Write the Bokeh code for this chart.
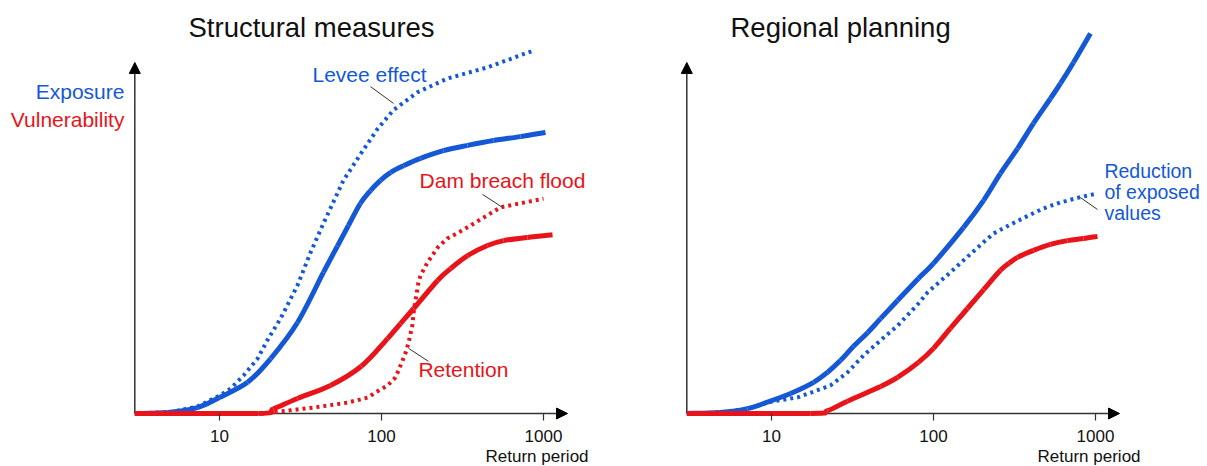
import math
from bokeh.plotting import figure
from bokeh.layouts import row
from bokeh.models import Range1d, FixedTicker, PrintfTickFormatter, Label, Arrow, NormalHead
from bokeh.embed import file_html
from bokeh.resources import INLINE

FONT = "Liberation Sans"
BLUE = "#1558d6"
RED = "#e8141a"
AXIS = "#333333"

# ---------------- data ----------------
tick_values = [10, 100, 1000]
tick_labels = ["10", "100", "1000"]

# Structural measures (left panel)
sm_exposure_x = [3, 4.8, 7.3, 10, 14.9, 20.7, 30.3, 43.8, 53.4, 62.5, 74, 85.5, 98.6, 114, 137, 174, 241, 340, 491, 721, 1028]
sm_exposure_y = [0, 0.3, 1.7, 4.6, 8.9, 15.7, 26, 40.3, 47.8, 53.7, 60, 63.7, 66.6, 68.9, 70.8, 72.9, 75.1, 76.6, 78, 79.1, 80.3]

sm_levee_x = [3, 5, 7.3, 10, 11.7, 14.1, 17.2, 20, 23.8, 30.3, 36.5, 43.2, 58.2, 74, 94.5, 118, 167, 255, 451, 843]
sm_levee_y = [0, 0.4, 2, 5.1, 7.1, 10.9, 15.7, 21.4, 27.1, 36.6, 46, 53.7, 66.6, 74, 81.3, 86.6, 91.8, 95.7, 98.9, 103.5]

sm_vuln_x = [3, 17.4, 21.5, 30.3, 48.4, 75, 109, 131, 158, 222, 267, 340, 451, 567, 796, 1137]
sm_vuln_y = [0, 0, 1.3, 4.3, 8, 13.5, 21.4, 25.7, 30, 38, 41.4, 45.1, 48, 49.4, 50.3, 51.1]

sm_dam_x = [3, 18.7, 26, 38, 61.7, 83, 89.4, 109, 122, 131, 141, 147, 155, 158, 169, 174, 192, 222, 255, 299, 354, 543, 1000]
sm_dam_y = [0, 0, 0.8, 1.7, 3.1, 4.6, 5.7, 8, 10.3, 13.7, 17.4, 20.3, 25.1, 28.9, 37.4, 39.4, 43.1, 47.4, 50, 51.7, 53.7, 58.9, 61.4]

# Regional planning (right panel)
rp_exposure_x = [3, 4.8, 7.1, 10, 13.1, 18.2, 22.2, 26.7, 32.1, 39.2, 47.1, 60, 80.7, 100, 153, 204, 259, 330, 414, 527, 608, 731, 931]
rp_exposure_y = [0, 0.3, 1.4, 3.7, 5.7, 8.9, 11.8, 15.2, 19.2, 23.1, 27.1, 32.3, 38.6, 42.9, 53.1, 60.9, 68.6, 75.7, 82.9, 90, 94.3, 100.3, 108.6]

rp_reduction_x = [3, 5, 7, 10, 14.5, 23.1, 29.4, 37, 47.1, 60, 80.7, 91.8, 127, 187, 234, 299, 380, 477, 608, 774, 1029]
rp_reduction_y = [0, 0.3, 1.3, 3.4, 4.6, 8, 11.7, 16.6, 20.9, 25.1, 31.4, 34.6, 40.3, 47.4, 51.4, 54, 56.4, 58.6, 60.3, 61.6, 62.9]

rp_vuln_x = [3, 17.4, 22.2, 29.4, 47.1, 60, 80.7, 100, 127, 162, 204, 259, 292, 330, 414, 527, 671, 843, 1029]
rp_vuln_y = [0, 0, 0.8, 3.5, 7.7, 10.3, 14.6, 18.6, 24.3, 30, 35.4, 40.9, 42.9, 44.6, 46.6, 48.3, 49.4, 50, 50.6]

# ---------------- layout ----------------
PX_DECADE = 162.0
PX_Y = 3.5
H = 466
AXIS_Y_PX = 413
AXIS_X0 = 3
X_ARROW = 10 ** (1 + 348 / PX_DECADE)
Y_ARROW = 100.3


def make_panel(width, x10_px):
    # frame spans the whole canvas; x10_px = pixel of the "10" tick inside the canvas
    x_start = 10 ** (1 - x10_px / PX_DECADE)
    x_end = 10 ** (1 + (width - x10_px) / PX_DECADE)
    p = figure(width=width, height=H, x_axis_type="log",
               x_range=Range1d(x_start, x_end),
               y_range=Range1d(-(H - AXIS_Y_PX) / PX_Y, AXIS_Y_PX / PX_Y),
               y_axis_location=None, toolbar_location=None, output_backend="svg",
               min_border=0, min_border_left=0, min_border_right=0,
               min_border_top=0, min_border_bottom=0)
    p.outline_line_color = None
    p.grid.visible = False
    ax = p.xaxis[0]
    ax.fixed_location = 0
    ax.ticker = FixedTicker(ticks=tick_values, minor_ticks=[])
    ax.formatter = PrintfTickFormatter(format="%d")
    ax.major_label_overrides = {v: s for v, s in zip(tick_values, tick_labels)}
    ax.axis_line_color = None
    ax.major_tick_in = 0
    ax.major_tick_out = 7
    ax.major_tick_line_color = AXIS
    ax.major_tick_line_width = 1.2
    ax.minor_tick_line_color = None
    ax.major_label_text_font = FONT
    ax.major_label_text_font_size = "17px"
    ax.major_label_text_color = "#111111"
    ax.major_label_standoff = 9
    head = dict(size=11, fill_color="black", line_color="black")
    p.add_layout(Arrow(x_start=AXIS_X0, y_start=0, x_end=X_ARROW, y_end=0,
                       line_width=1.5, line_color=AXIS, end=NormalHead(**head), level="underlay"))
    p.add_layout(Arrow(x_start=AXIS_X0, y_start=0, x_end=AXIS_X0, y_end=Y_ARROW,
                       line_width=1.5, line_color=AXIS, end=NormalHead(**head), level="underlay"))
    label(p, 1897, -(463 - AXIS_Y_PX) / PX_Y, "Return period", "#111111", "right", 17)
    return p


def smooth_line(p, xs, ys, **kw):
    """Join the read points with smooth Bezier pieces (Catmull-Rom tangents in log-x)."""
    lx = [math.log10(v) for v in xs]
    n = len(xs)
    d = {k: [] for k in ("x0", "y0", "x1", "y1", "cx0", "cy0", "cx1", "cy1")}
    for i in range(n - 1):
        a, b = max(i - 1, 0), min(i + 2, n - 1)
        lo, hi = min(ys[i], ys[i + 1]), max(ys[i], ys[i + 1])
        c0x = lx[i] + (lx[i + 1] - lx[a]) / 6
        c0y = min(max(ys[i] + (ys[i + 1] - ys[a]) / 6, lo), hi)
        c1x = lx[i + 1] - (lx[b] - lx[i]) / 6
        c1y = min(max(ys[i + 1] - (ys[b] - ys[i]) / 6, lo), hi)
        d["x0"].append(xs[i]); d["y0"].append(ys[i])
        d["x1"].append(xs[i + 1]); d["y1"].append(ys[i + 1])
        d["cx0"].append(10 ** c0x); d["cy0"].append(c0y)
        d["cx1"].append(10 ** c1x); d["cy1"].append(c1y)
    p.bezier(**d, **kw)


def label(p, x, y, text, color, align="left", size=21, shift=0.42):
    # y is the text baseline; y_offset compensates the renderer's baseline shift
    p.add_layout(Label(x=x, y=y, y_offset=round(shift * size), text=text, text_font=FONT,
                       text_font_size=f"{size}px", text_color=color, text_align=align,
                       text_baseline="alphabetic"))


def leader(p, x0, y0, x1, y1):
    p.segment(x0=[x0], y0=[y0], x1=[x1], y1=[y1], line_color="#333333", line_width=1)


# Left panel (canvas x 0..600)
p1 = make_panel(600, 219)
p1.line(sm_levee_x, sm_levee_y, line_color=BLUE, line_width=4, line_dash="3 4")
smooth_line(p1, sm_exposure_x, sm_exposure_y, line_color=BLUE, line_width=5)
p1.line(sm_dam_x, sm_dam_y, line_color=RED, line_width=4, line_dash="3 4")
smooth_line(p1, sm_vuln_x, sm_vuln_y, line_color=RED, line_width=5)
label(p1, 37.0, 107.7, "Structural measures", "#111111", "center", 27.5, 0.34)
label(p1, 2.59, 89.4, "Exposure", BLUE, "right")
label(p1, 2.59, 81.4, "Vulnerability", RED, "right")
label(p1, 37.5, 94.3, "Levee effect", BLUE)
leader(p1, 85.5, 93.4, 118.6, 88.6)
label(p1, 171.8, 64, "Dam breach flood", RED)
leader(p1, 420, 62.6, 558, 58.9)
label(p1, 169, 10, "Retention", RED)
leader(p1, 147, 18.6, 195, 14.9)

# Right panel (canvas x 600..1207)
p2 = make_panel(607, 171)
p2.line(rp_reduction_x, rp_reduction_y, line_color=BLUE, line_width=4, line_dash="3 4")
smooth_line(p2, rp_exposure_x, rp_exposure_y, line_color=BLUE, line_width=5)
smooth_line(p2, rp_vuln_x, rp_vuln_y, line_color=RED, line_width=5)
label(p2, 26.7, 107.7, "Regional planning", "#111111", "center", 27.5, 0.34)
label(p2, 1135, 67.1, "Reduction", BLUE, size=19.5)
label(p2, 1135, 60.9, "of exposed", BLUE, size=19.5)
label(p2, 1135, 55.1, "values", BLUE, size=19.5)
leader(p2, 807, 61.7, 1028, 58.3)

layout = row(p1, p2)
open("out.html", "w").write(file_html(layout, INLINE))
